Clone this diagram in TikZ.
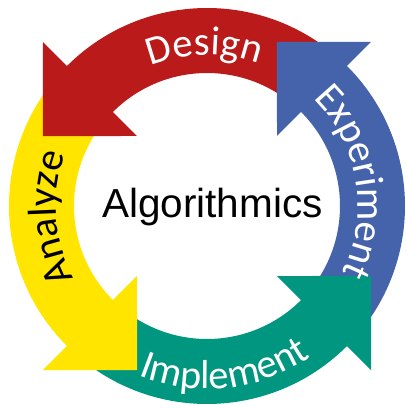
\documentclass[tikz,border=0pt]{standalone}
\usepackage{fontspec}
\setmainfont{Liberation Sans}
\newfontfamily\carlito{Carlito}
\usetikzlibrary{decorations.text}

\definecolor{designred}{RGB}{186,26,26}
\definecolor{exptblue}{RGB}{69,99,170}
\definecolor{implgreen}{RGB}{0,150,127}
\definecolor{anlyellow}{RGB}{255,229,0}
\newcommand{\cycfont}{\carlito\fontsize{40.5pt}{40.5pt}\selectfont}

\begin{document}
\begin{tikzpicture}[x=1pt,y=1pt]
\tikzset{cyctext/.style 2 args = {decorate, decoration={text along path, text={|\cycfont|#1}, text color=#2, text align=center}}}
\useasboundingbox (-207,-202) rectangle (199,206);
% bands first, heads on top of the next tail
\foreach \a/\c in {135/designred, 45/exptblue, -45/implgreen, 225/anlyellow}
  \fill[\c] (\a-87:198) arc[start angle=\a-87, end angle=\a+1, radius=198]
    -- (\a+1:133) arc[start angle=\a+1, end angle=\a-87, radius=133] -- cycle;
\foreach \a/\c in {135/designred, 45/exptblue, -45/implgreen, 225/anlyellow}
  \fill[\c] (\a:232) -- (\a+21.9:178.4) -- (\a:99) -- cycle;
\path[cyctext={Design}{white}] (136:151) arc (136:46:151);
\path[cyctext={Experiment}{white}] (54.5:151) arc (54.5:-35.5:151);
\path[cyctext={Implement}{white}] (231.3:183) arc (231.3:321.3:183);
\path[cyctext={Analyze}{black}] (229.2:151) arc (229.2:139.2:151);
\node[anchor=base, font=\fontsize{40.5pt}{40.5pt}\selectfont] (title) at (5.4,-11) {Algorithmics};
\end{tikzpicture}
\end{document}
